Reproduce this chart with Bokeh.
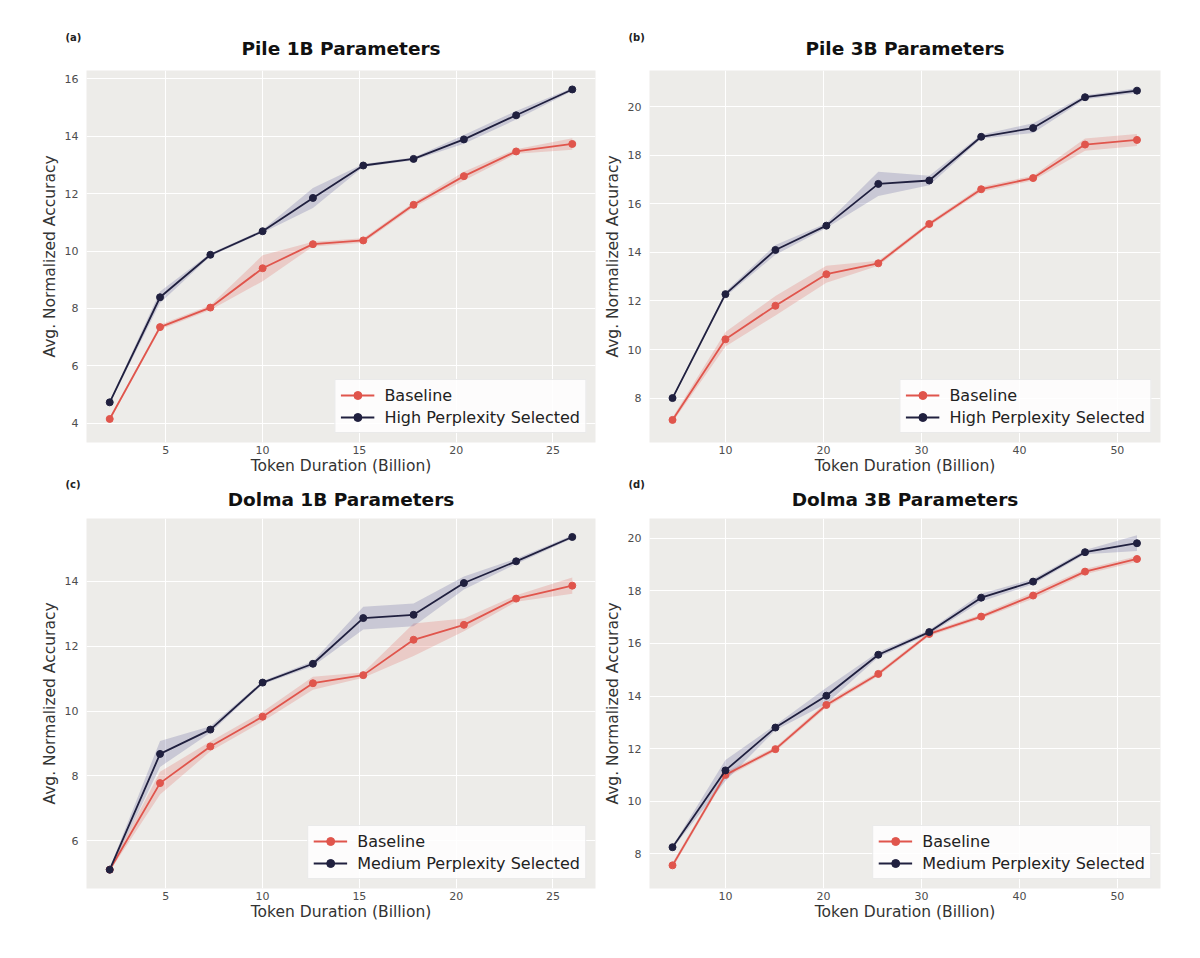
from bokeh.plotting import figure
from bokeh.layouts import column, row
from bokeh.models import Range1d, FixedTicker, Legend, LegendItem, Title
from bokeh.embed import file_html
from bokeh.resources import INLINE

# ---------------- data ----------------
x_1b = [2.1, 4.7, 7.3, 10.0, 12.6, 15.2, 17.8, 20.4, 23.1, 26.0]
x_3b = [4.6, 10.0, 15.1, 20.3, 25.6, 30.8, 36.1, 41.4, 46.7, 52.0]

pile1b_base = [4.15, 7.35, 8.03, 9.40, 10.24, 10.37, 11.61, 12.61, 13.47, 13.73]
pile1b_base_err = [0.05, 0.08, 0.08, 0.45, 0.08, 0.08, 0.08, 0.15, 0.08, 0.20]
pile1b_high = [4.73, 8.39, 9.87, 10.69, 11.85, 12.98, 13.21, 13.89, 14.73, 15.63]
pile1b_high_err = [0.05, 0.20, 0.05, 0.05, 0.35, 0.05, 0.05, 0.15, 0.15, 0.05]

pile3b_base = [7.10, 10.42, 11.80, 13.10, 13.55, 15.17, 16.60, 17.06, 18.44, 18.63]
pile3b_base_err = [0.10, 0.30, 0.40, 0.35, 0.10, 0.08, 0.10, 0.10, 0.25, 0.25]
pile3b_high = [8.00, 12.28, 14.10, 15.10, 16.82, 16.96, 18.76, 19.12, 20.39, 20.66]
pile3b_high_err = [0.05, 0.10, 0.20, 0.10, 0.50, 0.20, 0.08, 0.20, 0.08, 0.10]

dolma1b_base = [5.11, 7.78, 8.91, 9.83, 10.86, 11.11, 12.20, 12.66, 13.47, 13.87]
dolma1b_base_err = [0.05, 0.35, 0.15, 0.15, 0.20, 0.08, 0.50, 0.20, 0.10, 0.25]
dolma1b_med = [5.11, 8.68, 9.43, 10.88, 11.46, 12.87, 12.97, 13.95, 14.62, 15.37]
dolma1b_med_err = [0.05, 0.40, 0.10, 0.05, 0.08, 0.35, 0.35, 0.20, 0.08, 0.05]

dolma3b_base = [7.56, 11.00, 11.98, 13.66, 14.84, 16.36, 17.02, 17.82, 18.73, 19.21]
dolma3b_base_err = [0.10, 0.10, 0.08, 0.10, 0.08, 0.08, 0.08, 0.12, 0.10, 0.10]
dolma3b_med = [8.25, 11.17, 12.80, 14.01, 15.57, 16.43, 17.74, 18.35, 19.47, 19.81]
dolma3b_med_err = [0.05, 0.40, 0.10, 0.30, 0.10, 0.08, 0.15, 0.10, 0.08, 0.30]

xticks_1b = [5, 10, 15, 20, 25]
xticks_3b = [10, 20, 30, 40, 50]
yticks_a = [4, 6, 8, 10, 12, 14, 16]
yticks_b = [8, 10, 12, 14, 16, 18, 20]
yticks_c = [6, 8, 10, 12, 14]
yticks_d = [8, 10, 12, 14, 16, 18, 20]

titles = ["Pile 1B Parameters", "Pile 3B Parameters", "Dolma 1B Parameters", "Dolma 3B Parameters"]
tags = ["(a)", "(b)", "(c)", "(d)"]
baseline_label = "Baseline"
high_label = "High Perplexity Selected"
med_label = "Medium Perplexity Selected"
x_title = "Token Duration (Billion)"
y_title = "Avg. Normalized Accuracy"

RED = "#E0554C"
NAVY = "#20203F"
NAVY_BAND = "#4B4B8E"
FONT = "DejaVu Sans"


def make_panel(title, tag, xs, base, base_err, sel, sel_err, sel_label,
               xr, yr, xticks, yticks, fw, fh, bl, br, bt, bb, s_main, s_tag):
    p = figure(frame_width=fw, frame_height=fh, min_border_left=bl, min_border_right=br,
               min_border_top=bt, min_border_bottom=bb,
               x_range=Range1d(*xr), y_range=Range1d(*yr),
               output_backend="svg", toolbar_location=None, title=None)
    p.background_fill_color = "#EDECE9"
    p.border_fill_color = "white"
    p.outline_line_color = None

    main_title = Title(text=title, align="center", text_font=FONT, text_font_size="18.5px",
                       text_font_style="bold", text_color="#111111", standoff=s_main)
    p.add_layout(main_title, "above")
    tag_title = Title(text=tag, align="left", offset=-21, text_font=FONT, text_font_size="10px",
                      text_font_style="bold", text_color="#222222", standoff=s_tag)
    p.add_layout(tag_title, "above")

    p.grid.grid_line_color = "white"
    p.grid.grid_line_width = 1
    for ax in (p.xaxis, p.yaxis):
        ax.axis_line_color = None
        ax.major_tick_line_color = None
        ax.minor_tick_line_color = None
        ax.major_tick_out = 0
        ax.major_tick_in = 0
        ax.minor_tick_out = 0
        ax.minor_tick_in = 0
        ax.major_label_text_font = FONT
        ax.major_label_text_font_size = "11px"
        ax.major_label_text_color = "#4D4D4D"
        ax.axis_label_text_font = FONT
        ax.axis_label_text_font_size = "15.5px"
        ax.axis_label_text_font_style = "normal"
        ax.axis_label_text_color = "#333333"
    p.xaxis.ticker = FixedTicker(ticks=xticks)
    p.yaxis.ticker = FixedTicker(ticks=yticks)
    p.xaxis.axis_label = x_title
    p.yaxis.axis_label = y_title
    p.xaxis.major_label_standoff = 3
    p.xaxis.axis_label_standoff = 0
    p.yaxis.major_label_standoff = 8
    p.yaxis.axis_label_standoff = 3

    b_lo = [m - e for m, e in zip(base, base_err)]
    b_hi = [m + e for m, e in zip(base, base_err)]
    s_lo = [m - e for m, e in zip(sel, sel_err)]
    s_hi = [m + e for m, e in zip(sel, sel_err)]
    p.varea(x=xs, y1=b_lo, y2=b_hi, fill_color=RED, fill_alpha=0.22)
    p.varea(x=xs, y1=s_lo, y2=s_hi, fill_color=NAVY_BAND, fill_alpha=0.22)

    l1 = p.line(xs, base, line_color=RED, line_width=1.8)
    c1 = p.scatter(xs, base, size=7, fill_color=RED, line_color=RED)
    l2 = p.line(xs, sel, line_color=NAVY, line_width=1.8)
    c2 = p.scatter(xs, sel, size=7, fill_color=NAVY, line_color=NAVY)

    legend = Legend(items=[LegendItem(label=baseline_label, renderers=[l1, c1]),
                           LegendItem(label=sel_label, renderers=[l2, c2])],
                    location="bottom_right")
    legend.label_text_font = FONT
    legend.label_text_font_size = "16px"
    legend.label_text_color = "#222222"
    legend.glyph_width = 34
    legend.glyph_height = 20
    legend.label_standoff = 10
    legend.padding = 5
    legend.spacing = 2
    legend.margin = 9
    legend.border_line_color = "#D8D8D8"
    legend.background_fill_color = "white"
    legend.background_fill_alpha = 0.85
    p.add_layout(legend, "center")
    return p


pa = make_panel(titles[0], tags[0], x_1b, pile1b_base, pile1b_base_err, pile1b_high, pile1b_high_err,
                high_label, (0.9, 27.2), (3.33, 16.29), xticks_1b, yticks_a,
                509, 372, 86, 5, 70, 33, 24, -38)
pb = make_panel(titles[1], tags[1], x_3b, pile3b_base, pile3b_base_err, pile3b_high, pile3b_high_err,
                high_label, (2.25, 54.4), (6.17, 21.49), xticks_3b, yticks_b,
                511, 372, 47, 34, 70, 33, 24, -38)
pc = make_panel(titles[2], tags[2], x_1b, dolma1b_base, dolma1b_base_err, dolma1b_med, dolma1b_med_err,
                med_label, (0.9, 27.2), (4.53, 15.94), xticks_1b, yticks_c,
                509, 370, 86, 5, 40, 50, 18, -25)
pd_ = make_panel(titles[3], tags[3], x_3b, dolma3b_base, dolma3b_base_err, dolma3b_med, dolma3b_med_err,
                 med_label, (2.25, 54.4), (6.68, 20.75), xticks_3b, yticks_d,
                 511, 370, 47, 34, 40, 50, 18, -25)

layout = column(row(pa, pb), row(pc, pd_))
open("out.html", "w").write(file_html(layout, INLINE))
